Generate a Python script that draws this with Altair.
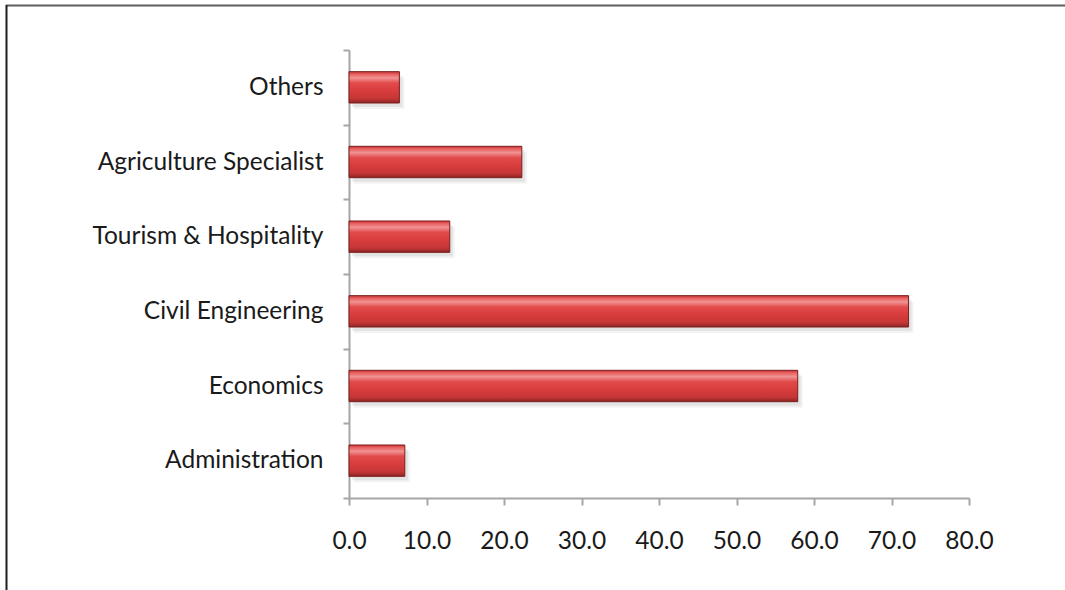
import altair as alt
import pandas as pd

# Number of specialists by field
categories = ["Others", "Agriculture Specialist", "Tourism & Hospitality\u00a0",
              "Civil Engineering", "Economics", "Administration\u00a0"]
values = [6.5, 22.3, 13.0, 72.2, 57.9, 7.2]
x_ticks = [0, 10, 20, 30, 40, 50, 60, 70, 80]

df = pd.DataFrame({"field": categories, "value": values})

FONT = "Lato"
FONT_SIZE = 24.5
AXIS_GRAY = "#a6a6a6"
TEXT = "#1a1a1a"

y_enc = alt.Y(
    "field:N",
    sort=categories,
    title=None,
    scale=alt.Scale(paddingInner=0, paddingOuter=0),
    axis=alt.Axis(
        domainColor=AXIS_GRAY, domainWidth=2,
        tickColor=AXIS_GRAY, tickWidth=2, tickSize=6, tickBand="extent",
        labelFont=FONT, labelFontSize=FONT_SIZE, labelColor=TEXT,
        labelPadding=20, labelLimit=400,
    ),
)
x_enc = alt.X(
    "value:Q",
    title=None,
    scale=alt.Scale(domain=[0, 80], nice=False),
    axis=alt.Axis(
        values=x_ticks, format=".1f", grid=False, labelFlush=False,
        domainColor=AXIS_GRAY, domainWidth=2,
        tickColor=AXIS_GRAY, tickWidth=2, tickSize=7,
        labelFont=FONT, labelFontSize=FONT_SIZE, labelColor=TEXT,
        labelPadding=24, labelOverlap=False,
    ),
)

base = alt.Chart(df)
BAR_H = alt.RelativeBandSize(0.42)

# soft drop shadow under each bar
shadow1 = base.mark_bar(color="#9a9a9a", opacity=0.18, xOffset=3, yOffset=4,
                        height=BAR_H).encode(x=x_enc, y=y_enc)
shadow2 = base.mark_bar(color="#9a9a9a", opacity=0.12, xOffset=5, yOffset=6,
                        height=BAR_H).encode(x=x_enc, y=y_enc)

# bevelled red bars
bevel = alt.Gradient(
    gradient="linear", x1=0, y1=0, x2=0, y2=1,
    stops=[
        alt.GradientStop(offset=0.0, color="#c83232"),
        alt.GradientStop(offset=0.07, color="#e65a5a"),
        alt.GradientStop(offset=0.2, color="#f19494"),
        alt.GradientStop(offset=0.36, color="#e24b4b"),
        alt.GradientStop(offset=0.62, color="#d83c3c"),
        alt.GradientStop(offset=0.86, color="#c43636"),
        alt.GradientStop(offset=1.0, color="#8c2424"),
    ],
)
bars = base.mark_bar(fill=bevel, stroke="#7a1f1f", strokeWidth=1,
                     height=BAR_H).encode(x=x_enc, y=y_enc)

# outer frame lines (top and left)
frame_top = alt.Chart(pd.DataFrame({"k": [0]})).mark_rule(
    color="#5f5f5f", strokeWidth=2
).encode(x=alt.value(-343), x2=alt.value(720), y=alt.value(-44.5))
frame_left = alt.Chart(pd.DataFrame({"k": [0]})).mark_rule(
    color="#1e1e1e", strokeWidth=2
).encode(x=alt.value(-342.5), y=alt.value(-45), y2=alt.value(545))

chart = alt.layer(shadow2, shadow1, bars, frame_top, frame_left).properties(
    width=620,
    height=448,
    background="white",
    autosize=alt.AutoSizeParams(type="none"),
    padding={"left": 349, "top": 50, "right": 96, "bottom": 92},
).configure_view(strokeWidth=0)

chart.save("out.html", embed_options={"renderer": "svg", "actions": False})
